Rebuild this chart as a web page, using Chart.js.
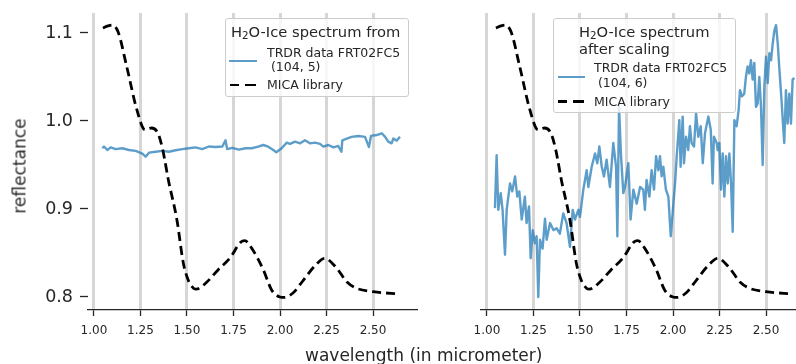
<!DOCTYPE html>
<html>
<head>
<meta charset="utf-8">
<script src="https://cdn.jsdelivr.net/npm/chart.js@4.4.1/dist/chart.umd.min.js"></script>
<style>
  html, body { margin:0; padding:0; width:796px; height:364px; overflow:hidden; background:#fff; }
  body { position:relative; font-family:"DejaVu Sans", sans-serif; color:#262626; }
  canvas { position:absolute; top:0; }
  .t { position:absolute; white-space:pre; line-height:1; }
  .lg { position:absolute; border:1px solid #cccccc; border-radius:3px; background:rgba(255,255,255,0.8); box-sizing:border-box; }
  .h { position:absolute; height:2.4px; }
  sub { font-size:70%; vertical-align:-0.22em; line-height:0; }
</style>
</head>
<body>
<canvas id="left" width="430" height="364" style="left:0px"></canvas>
<canvas id="right" width="380" height="364" style="left:440px"></canvas>

<div class="t" style="left:20px; top:166px; font-size:17px; transform:translate(-50%,-50%) rotate(-90deg);">reflectance</div>
<div class="t" style="left:305px; top:347px; font-size:17px;">wavelength (in micrometer)</div>

<!-- left legend -->
<div class="lg" style="left:225px; top:18px; width:184px; height:79px;"></div>
<div class="t" style="left:231px; top:25px; font-size:14.7px;">H<sub>2</sub>O-Ice spectrum from</div>
<div class="h" style="left:229px; top:59.5px; width:28px; background:rgba(31,119,180,0.72);"></div>
<div class="t" style="left:267px; top:47px; font-size:12.5px;">TRDR data FRT02FC5</div>
<div class="t" style="left:267px; top:61px; font-size:12.5px;"> (104, 5)</div>
<div class="h" style="left:230px; top:83.6px; width:9px; height:2.8px; background:#000;"></div>
<div class="h" style="left:245px; top:83.6px; width:11px; height:2.8px; background:#000;"></div>
<div class="t" style="left:267px; top:79px; font-size:12.5px;">MICA library</div>

<!-- right legend -->
<div class="lg" style="left:553px; top:18px; width:183px; height:95px;"></div>
<div class="t" style="left:579px; top:24.6px; font-size:14.7px;">H<sub>2</sub>O-Ice spectrum</div>
<div class="t" style="left:579px; top:42.2px; font-size:14.7px;">after scaling</div>
<div class="h" style="left:558px; top:76.1px; width:27px; background:rgba(31,119,180,0.72);"></div>
<div class="t" style="left:594px; top:62.3px; font-size:12.5px;">TRDR data FRT02FC5</div>
<div class="t" style="left:594px; top:77.3px; font-size:12.5px;"> (104, 6)</div>
<div class="h" style="left:558px; top:100.3px; width:9px; height:2.8px; background:#000;"></div>
<div class="h" style="left:573px; top:100.3px; width:11px; height:2.8px; background:#000;"></div>
<div class="t" style="left:594px; top:95.7px; font-size:12.5px;">MICA library</div>

<script>
// ---- data ----
const xTicks = [1.00, 1.25, 1.50, 1.75, 2.00, 2.25, 2.50];
const yTicks = [0.8, 0.9, 1.0, 1.1];

const micaWavelength  = [1.048, 1.075, 1.097, 1.130, 1.177, 1.231, 1.274, 1.310, 1.344, 1.370, 1.400, 1.446, 1.480, 1.507, 1.535, 1.550, 1.607, 1.668, 1.730, 1.790, 1.810, 1.855, 1.910, 1.955, 2.000, 2.020, 2.070, 2.125, 2.190, 2.240, 2.300, 2.360, 2.410, 2.500, 2.645];
const micaReflectance = [1.1057, 1.108, 1.109, 1.101, 1.061, 1.0125, 0.990, 0.992, 0.986, 0.967, 0.933, 0.8875, 0.839, 0.819, 0.810, 0.809, 0.817, 0.831, 0.844, 0.8625, 0.864, 0.853, 0.831, 0.808, 0.800, 0.7995, 0.8045, 0.819, 0.836, 0.844, 0.834, 0.817, 0.810, 0.806, 0.8035];

const trdr5Wavelength  = [1.045, 1.054, 1.072, 1.090, 1.116, 1.152, 1.188, 1.224, 1.260, 1.278, 1.296, 1.332, 1.367, 1.403, 1.439, 1.475, 1.510, 1.546, 1.582, 1.618, 1.654, 1.690, 1.707, 1.716, 1.743, 1.779, 1.815, 1.848, 1.883, 1.910, 1.937, 1.964, 1.980, 2.009, 2.036, 2.054, 2.081, 2.108, 2.134, 2.161, 2.188, 2.215, 2.233, 2.260, 2.287, 2.313, 2.330, 2.335, 2.359, 2.385, 2.421, 2.457, 2.478, 2.489, 2.520, 2.547, 2.565, 2.582, 2.600, 2.609, 2.627, 2.645];
const trdr5Reflectance = [0.969, 0.971, 0.967, 0.970, 0.968, 0.969, 0.967, 0.966, 0.963, 0.9595, 0.964, 0.965, 0.966, 0.965, 0.9667, 0.968, 0.969, 0.970, 0.968, 0.971, 0.9705, 0.971, 0.978, 0.968, 0.9695, 0.9674, 0.969, 0.969, 0.9708, 0.9727, 0.9708, 0.967, 0.9644, 0.969, 0.9754, 0.974, 0.9765, 0.9746, 0.978, 0.9746, 0.9754, 0.974, 0.9708, 0.9727, 0.970, 0.9716, 0.965, 0.978, 0.980, 0.982, 0.983, 0.982, 0.9703, 0.983, 0.984, 0.986, 0.982, 0.9765, 0.9746, 0.980, 0.9777, 0.982];

const trdr6Wavelength  = [1.043, 1.052, 1.061, 1.074, 1.084, 1.097, 1.106, 1.124, 1.136, 1.151, 1.163, 1.174, 1.187, 1.204, 1.213, 1.226, 1.235, 1.246, 1.258, 1.267, 1.276, 1.285, 1.299, 1.312, 1.321, 1.339, 1.357, 1.375, 1.392, 1.410, 1.428, 1.446, 1.461, 1.473, 1.491, 1.500, 1.518, 1.536, 1.545, 1.563, 1.581, 1.593, 1.604, 1.617, 1.629, 1.643, 1.661, 1.679, 1.694, 1.701, 1.710, 1.720, 1.733, 1.742, 1.760, 1.772, 1.787, 1.805, 1.823, 1.840, 1.849, 1.858, 1.873, 1.885, 1.898, 1.909, 1.921, 1.930, 1.939, 1.948, 1.962, 1.975, 1.988, 2.002, 2.011, 2.020, 2.034, 2.041, 2.052, 2.059, 2.070, 2.082, 2.091, 2.100, 2.113, 2.124, 2.136, 2.149, 2.160, 2.172, 2.190, 2.203, 2.213, 2.220, 2.235, 2.240, 2.249, 2.258, 2.267, 2.276, 2.285, 2.294, 2.303, 2.312, 2.321, 2.330, 2.342, 2.353, 2.360, 2.371, 2.383, 2.392, 2.401, 2.410, 2.419, 2.428, 2.437, 2.446, 2.455, 2.464, 2.473, 2.482, 2.491, 2.500, 2.509, 2.518, 2.527, 2.536, 2.545, 2.554, 2.563, 2.572, 2.581, 2.590, 2.598, 2.607, 2.616, 2.625, 2.634, 2.643, 2.652];
const trdr6Reflectance = [0.901, 0.961, 0.899, 0.918, 0.899, 0.848, 0.899, 0.929, 0.920, 0.937, 0.914, 0.920, 0.888, 0.914, 0.884, 0.903, 0.844, 0.876, 0.861, 0.869, 0.800, 0.865, 0.855, 0.889, 0.865, 0.884, 0.876, 0.878, 0.872, 0.895, 0.884, 0.857, 0.899, 0.888, 0.899, 0.891, 0.922, 0.944, 0.925, 0.948, 0.963, 0.952, 0.971, 0.948, 0.937, 0.956, 0.925, 0.975, 0.948, 0.869, 1.016, 0.963, 0.918, 0.925, 0.952, 0.888, 0.922, 0.906, 0.925, 0.922, 0.899, 0.933, 0.914, 0.944, 0.922, 0.960, 0.944, 0.960, 0.937, 0.948, 0.922, 0.914, 0.869, 0.906, 0.929, 0.960, 1.001, 0.948, 1.005, 0.952, 0.982, 0.967, 0.994, 0.975, 0.971, 1.009, 0.982, 0.994, 0.952, 0.986, 1.005, 0.990, 0.929, 0.982, 0.975, 0.967, 0.975, 0.922, 0.963, 0.914, 0.960, 0.929, 0.963, 0.929, 0.874, 1.001, 0.994, 1.013, 1.035, 1.028, 1.031, 1.050, 1.062, 1.054, 1.069, 1.047, 1.066, 1.016, 1.020, 1.050, 1.016, 0.950, 1.039, 1.073, 1.043, 1.077, 1.069, 1.088, 1.103, 1.109, 1.088, 1.058, 1.031, 1.001, 0.975, 1.035, 0.997, 1.031, 0.997, 1.047, 1.049];

// ---- helpers ----
const pts = (xs, ys) => xs.map((x, i) => ({ x: x, y: ys[i] }));
const INK = '#262626';
const BLUE = 'rgba(31,119,180,0.72)';

function makeChart(id, trdrX, trdrY, showY, padding) {
  return new Chart(document.getElementById(id), {
    type: 'line',
    data: {
      datasets: [
        { data: pts(micaWavelength, micaReflectance), borderColor: '#000', borderWidth: 2.8,
          borderDash: [9, 5], pointRadius: 0, cubicInterpolationMode: 'monotone', fill: false },
        { data: pts(trdrX, trdrY), borderColor: BLUE, borderWidth: 2.4, pointRadius: 0,
          borderJoinStyle: 'round', tension: 0, fill: false }
      ]
    },
    options: {
      responsive: false, animation: false, devicePixelRatio: 1,
      layout: { padding: padding },
      plugins: { legend: { display: false }, tooltip: { enabled: false } },
      scales: {
        x: {
          type: 'linear', min: 0.968, max: 2.731,
          afterBuildTicks: s => { s.ticks = xTicks.map(v => ({ value: v })); },
          afterFit: s => { s.height = 54; s.paddingLeft = 0; s.paddingRight = 0; },
          border: { display: true, color: INK, width: 1.3 },
          grid: { display: true, drawOnChartArea: true, color: '#d6d6d6', lineWidth: 3,
                  drawTicks: true, tickColor: INK, tickLength: 6, tickWidth: 1.3 },
          ticks: { color: INK, font: { family: 'DejaVu Sans', size: 12 }, padding: 8,
                   maxRotation: 0, autoSkip: false, callback: v => Number(v).toFixed(2) }
        },
        y: {
          display: showY, min: 0.7852, max: 1.1227,
          afterBuildTicks: s => { s.ticks = yTicks.map(v => ({ value: v })); },
          afterFit: s => { s.width = showY ? 88 : 0; s.paddingTop = 0; s.paddingBottom = 0; },
          border: { display: false },
          grid: { display: true, drawOnChartArea: false, drawTicks: true, tickColor: INK,
                  tickLength: 8, tickWidth: 1.3 },
          ticks: { color: INK, font: { family: 'DejaVu Sans', size: 17.5 }, padding: 7,
                   callback: v => Number(v).toFixed(1) }
        }
      }
    }
  });
}

makeChart('left', trdr5Wavelength, trdr5Reflectance, true, { top: 13, right: 14, left: 0, bottom: 0 });
makeChart('right', trdr6Wavelength, trdr6Reflectance, false, { top: 13, right: 11, left: 41, bottom: 0 });
</script>
</body>
</html>
